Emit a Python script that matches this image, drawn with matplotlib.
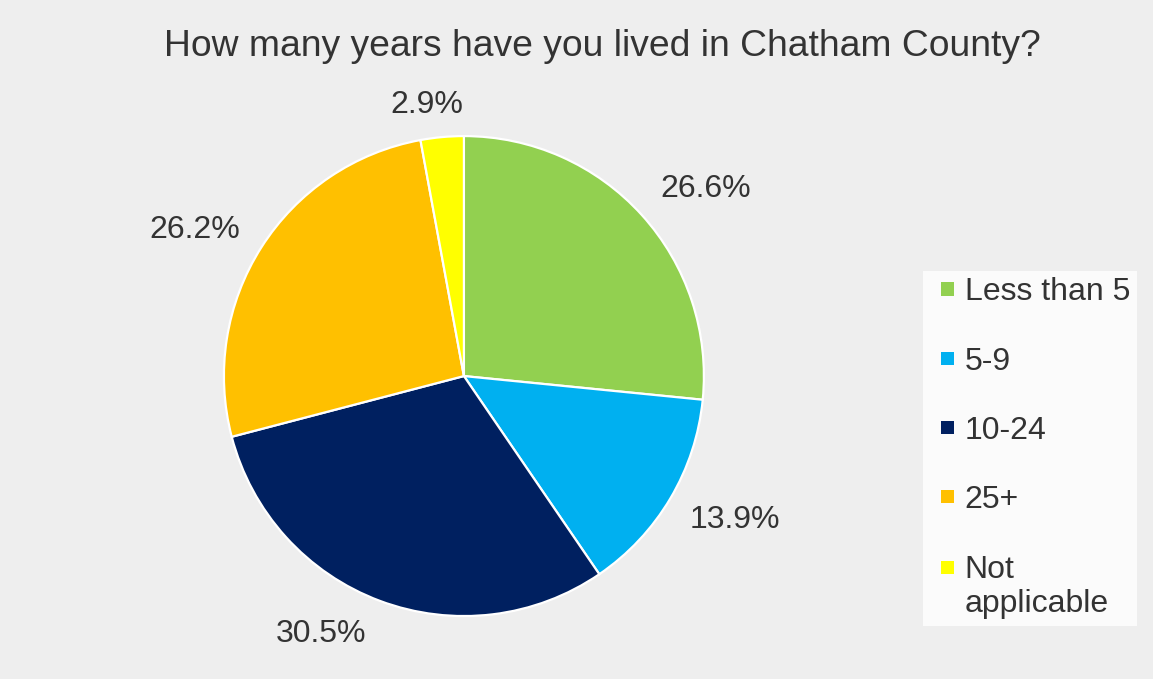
import numpy as np
import matplotlib.pyplot as plt
from matplotlib.patches import Patch, Rectangle
from matplotlib.legend_handler import HandlerBase

plt.rcParams["font.family"] = ["Liberation Sans", "DejaVu Sans"]

categories = ["Less than 5", "5-9", "10-24", "25+", "Not\napplicable"]
shares = [26.6, 13.9, 30.5, 26.2, 2.9]
colors = ["#92D050", "#00B0F0", "#002060", "#FFC000", "#FFFF00"]

# where the percentage labels sit (degrees, radius multiples), as in the original
label_angles = [37.7, -28.0, -119.0, 151.5, 97.7]
label_radii = [1.275, 1.28, 1.23, 1.275, 1.14]

text_color = "#333333"
bg = "#EEEEEE"


class SquareHandler(HandlerBase):
    # small square at the right end of the handle box; lift moves it up to the first text line
    def __init__(self, lift=0.0):
        super().__init__()
        self.lift = lift

    def create_artists(self, legend, orig_handle, xdescent, ydescent,
                       width, height, fontsize, trans):
        size = 0.41 * fontsize
        x0 = -xdescent + width - size
        y0 = -ydescent + (height - size) / 2 + self.lift * fontsize
        r = Rectangle((x0, y0), size, size, facecolor=orig_handle.get_facecolor(),
                      edgecolor="none", transform=trans)
        return [r]


fig = plt.figure(figsize=(11.53, 6.79), dpi=100, facecolor=bg)
ax = fig.add_axes([0.1942, 0.0927, 0.4163, 0.7069])
ax.set_facecolor(bg)

wedges, texts = ax.pie(
    shares,
    labels=[f"{v}%" for v in shares],
    colors=colors,
    startangle=90,
    counterclock=False,
    wedgeprops=dict(edgecolor="white", linewidth=1.6),
    textprops=dict(fontsize=23, color=text_color),
)
for t, a, r in zip(texts, label_angles, label_radii):
    t.set_ha("center")
    t.set_va("center")
    t.set_position((r * np.cos(np.radians(a)), r * np.sin(np.radians(a))))
ax.set_xlim(-1, 1)
ax.set_ylim(-1, 1)
ax.set_aspect("equal")
ax.axis("off")

fig.text(0.5226, 0.931, "How many years have you lived in Chatham County?",
         ha="center", va="center", fontsize=26.8, color=text_color)

handles = [Patch(facecolor=c, edgecolor="none") for c in colors]
handler_map = {h: SquareHandler(lift=0.6 if "\n" in lab else 0.0)
               for h, lab in zip(handles, categories)}
leg = fig.legend(
    handles, categories, handler_map=handler_map,
    loc="upper left", bbox_to_anchor=(0.8005, 0.6009),
    borderaxespad=0, frameon=True, fancybox=False,
    fontsize=23, labelcolor=text_color,
    handlelength=0.78, handleheight=0.45, handletextpad=0.33,
    labelspacing=1.23, borderpad=0.2,
)
leg.get_frame().set_facecolor("white")
leg.get_frame().set_edgecolor("none")

fig.savefig("out.png", dpi=100, facecolor=bg)
